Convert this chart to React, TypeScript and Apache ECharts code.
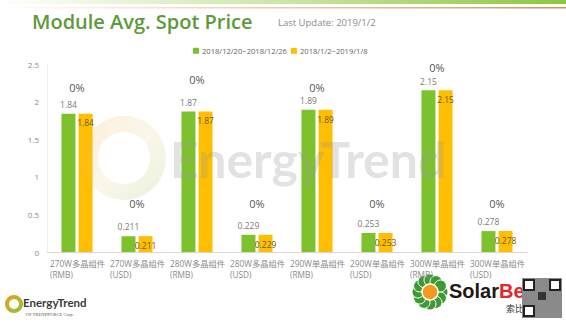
import React, { useEffect, useRef } from "react";
import * as echarts from "echarts";

const categories = [
  "270W多晶组件\n(RMB)",
  "270W多晶组件\n(USD)",
  "280W多晶组件\n(RMB)",
  "280W多晶组件\n(USD)",
  "290W单晶组件\n(RMB)",
  "290W单晶组件\n(USD)",
  "300W单晶组件\n(RMB)",
  "300W单晶组件\n(USD)",
];
const seriesNames = ["2018/12/20~2018/12/26", "2018/1/2~2019/1/8"];
const week1 = [1.84, 0.211, 1.87, 0.229, 1.89, 0.253, 2.15, 0.278];
const week2 = [1.84, 0.211, 1.87, 0.229, 1.89, 0.253, 2.15, 0.278];
const changeText = ["0%", "0%", "0%", "0%", "0%", "0%", "0%", "0%"];
const changeLabelY = [2.19, 0.64, 2.29, 0.64, 2.19, 0.64, 2.45, 0.64];
const yTicks = [0, 0.5, 1, 1.5, 2, 2.5];

const GREEN = "#7dc22c";
const ORANGE = "#ffbf00";
const FONT = "'Open Sans', 'Noto Sans CJK SC', sans-serif";

export default function App() {
  const ref = useRef<HTMLDivElement>(null);
  useEffect(() => {
    if (!ref.current) return;
    const chart = echarts.init(ref.current, null, { renderer: "svg" });
    const catLabel = (v: string) =>
      v
        .split("\n")
        .map((s) => `{a|${s}}`)
        .join("\n");
    chart.setOption({
      animation: false,
      backgroundColor: "#ffffff",
      textStyle: { fontFamily: FONT },
      grid: { left: 47, right: 39, top: 64, bottom: 79 },
      legend: {
        data: seriesNames,
        top: 42,
        left: 188,
        itemWidth: 6,
        itemHeight: 6,
        itemGap: 4,
        icon: "rect",
        textStyle: { fontSize: 7.6, color: "#666", fontFamily: FONT, padding: [0, 0, 0, -2] },
      },
      xAxis: {
        type: "category",
        data: categories,
        axisLine: { lineStyle: { color: "#d9d9d9" } },
        axisTick: { show: false },
        axisLabel: {
          interval: 0,
          margin: 6,
          formatter: catLabel,
          rich: {
            a: { width: 54, align: "left", fontSize: 8.3, color: "#8a8a8a", lineHeight: 11, fontFamily: FONT },
          },
        },
      },
      yAxis: {
        type: "value",
        min: 0,
        max: 2.5,
        interval: 0.5,
        axisLine: { show: true, lineStyle: { color: "#eeeeee" } },
        axisTick: { show: false },
        splitLine: { show: false },
        axisLabel: {
          fontSize: 8,
          color: "#8a8a8a",
          margin: 8,
          formatter: (v: number) => (yTicks.includes(v) ? String(v) : ""),
        },
      },
      series: [
        {
          name: seriesNames[0],
          type: "bar",
          data: week1,
          barWidth: 14,
          barGap: "22%",
          itemStyle: { color: GREEN },
          label: {
            show: true,
            position: "top",
            distance: 5,
            fontSize: 8.5,
            color: "#7a7a7a",
            fontFamily: FONT,
          },
        },
        {
          name: seriesNames[1],
          type: "bar",
          data: week2,
          barWidth: 14,
          itemStyle: { color: ORANGE },
          label: {
            show: true,
            position: "insideTop",
            distance: 5,
            fontSize: 8.5,
            color: "#6b5a22",
            fontFamily: FONT,
          },
        },
        {
          name: "change",
          type: "scatter",
          data: changeLabelY.map((v, i) => ({ value: v, label: { formatter: changeText[i] } })),
          symbolSize: 0,
          silent: true,
          label: {
            show: true,
            position: "inside",
            fontSize: 11,
            color: "#222",
            fontFamily: FONT,
          },
          z: 5,
        },
      ],
      graphic: [
        // top decoration
        {
          type: "rect",
          shape: { x: 0, y: 0, width: 566, height: 4 },
          style: {
            fill: new echarts.graphic.LinearGradient(0, 0, 1, 0, [
              { offset: 0, color: "rgba(141,198,63,0)" },
              { offset: 0.5, color: "rgba(141,198,63,0.45)" },
              { offset: 1, color: "rgba(141,198,63,1)" },
            ]),
          },
          silent: true,
        },
        {
          type: "rect",
          shape: { x: 0, y: 7, width: 566, height: 1.5 },
          style: {
            fill: new echarts.graphic.LinearGradient(0, 0, 1, 0, [
              { offset: 0, color: "rgba(222,170,110,0)" },
              { offset: 0.4, color: "rgba(222,170,110,0.5)" },
              { offset: 1, color: "rgba(200,150,90,1)" },
            ]),
          },
          silent: true,
        },
        // title
        {
          type: "text",
          left: 32,
          top: 11,
          style: {
            text: "Module Avg. Spot Price",
            fontSize: 20,
            fontWeight: 600,
            fill: "#5c9a3a",
            fontFamily: "'Open Sans', sans-serif",
          },
        },
        {
          type: "text",
          left: 278,
          top: 18,
          style: {
            text: "Last Update: 2019/1/2",
            fontSize: 9.5,
            fill: "#8a8a8a",
            fontFamily: FONT,
          },
        },
        // watermark
        {
          type: "ring",
          shape: { cx: 124, cy: 158, r: 42, r0: 26 },
          style: {
            fill: new echarts.graphic.LinearGradient(0, 0, 1, 1, [
              { offset: 0, color: "rgba(245,170,60,0.2)" },
              { offset: 0.5, color: "rgba(230,200,120,0.16)" },
              { offset: 1, color: "rgba(140,190,80,0.2)" },
            ]),
          },
          z: 100,
          silent: true,
        },
        {
          type: "text",
          left: 170,
          top: 134,
          style: {
            text: "EnergyTrend",
            fontSize: 50,
            fontWeight: "bold",
            fill: "rgba(150,150,150,0.28)",
            fontFamily: "'Lato', 'Noto Sans', sans-serif",
          },
          z: 100,
          silent: true,
        },
        // bottom-left logo
        {
          type: "ring",
          shape: { cx: 14, cy: 304, r: 9, r0: 5 },
          style: {
            fill: new echarts.graphic.LinearGradient(0, 0, 1, 1, [
              { offset: 0, color: "#f39a1e" },
              { offset: 1, color: "#8cc63f" },
            ]),
          },
        },
        {
          type: "text",
          left: 23,
          top: 296,
          style: { text: "EnergyTrend", fontSize: 11.5, fontWeight: "bold", fill: "#3a3a3a", fontFamily: "'Lato', sans-serif" },
        },
        {
          type: "text",
          left: 26,
          top: 312,
          style: { text: "OF TRENDFORCE Corp.", fontSize: 4.5, fill: "#555", fontFamily: "'Liberation Serif', serif" },
        },
        // SolarBe logo
        {
          type: "group",
          children: [
            ...Array.from({ length: 12 }).map((_, i) => {
              const a = (i / 12) * Math.PI * 2;
              return {
                type: "circle",
                shape: { cx: 430 + Math.cos(a) * 12, cy: 292 + Math.sin(a) * 12, r: 6 },
                style: { fill: "#3d9a32", stroke: "#fff", lineWidth: 1 },
              };
            }),
            { type: "circle", shape: { cx: 430, cy: 292, r: 8 }, style: { fill: "#f39a1e", stroke: "#fff", lineWidth: 1.5 } },
          ],
        },
        {
          type: "text",
          left: 449,
          top: 281,
          style: {
            text: "{s|Solar}{b|Be}",
            rich: {
              s: { fontSize: 20, fontWeight: "bold", fill: "#231815", fontFamily: "'Liberation Sans', sans-serif" },
              b: { fontSize: 20, fontWeight: "bold", fill: "#e5262b", fontFamily: "'Liberation Sans', sans-serif" },
            },
          },
        },
        {
          type: "text",
          left: 506,
          top: 304,
          style: { text: "索比", fontSize: 9, fill: "#333", fontFamily: "'Noto Sans CJK SC', sans-serif" },
        },
        // QR code approximation
        {
          type: "group",
          children: [
            { type: "rect", shape: { x: 522, y: 278, width: 40, height: 40 }, style: { fill: "#8a8a8a" } },
            { type: "rect", shape: { x: 524, y: 280, width: 10, height: 10 }, style: { fill: "#fff", stroke: "#222", lineWidth: 2 } },
            { type: "rect", shape: { x: 550, y: 280, width: 10, height: 10 }, style: { fill: "#fff", stroke: "#222", lineWidth: 2 } },
            { type: "rect", shape: { x: 524, y: 306, width: 10, height: 10 }, style: { fill: "#fff", stroke: "#222", lineWidth: 2 } },
            { type: "rect", shape: { x: 538, y: 292, width: 8, height: 8 }, style: { fill: "#333" } },
          ],
        },
      ],
    });
    return () => chart.dispose();
  }, []);
  return (
    <div
      ref={ref}
      style={{ position: "fixed", left: 0, top: 0, width: 566, height: 331, background: "#fff" }}
    />
  );
}
